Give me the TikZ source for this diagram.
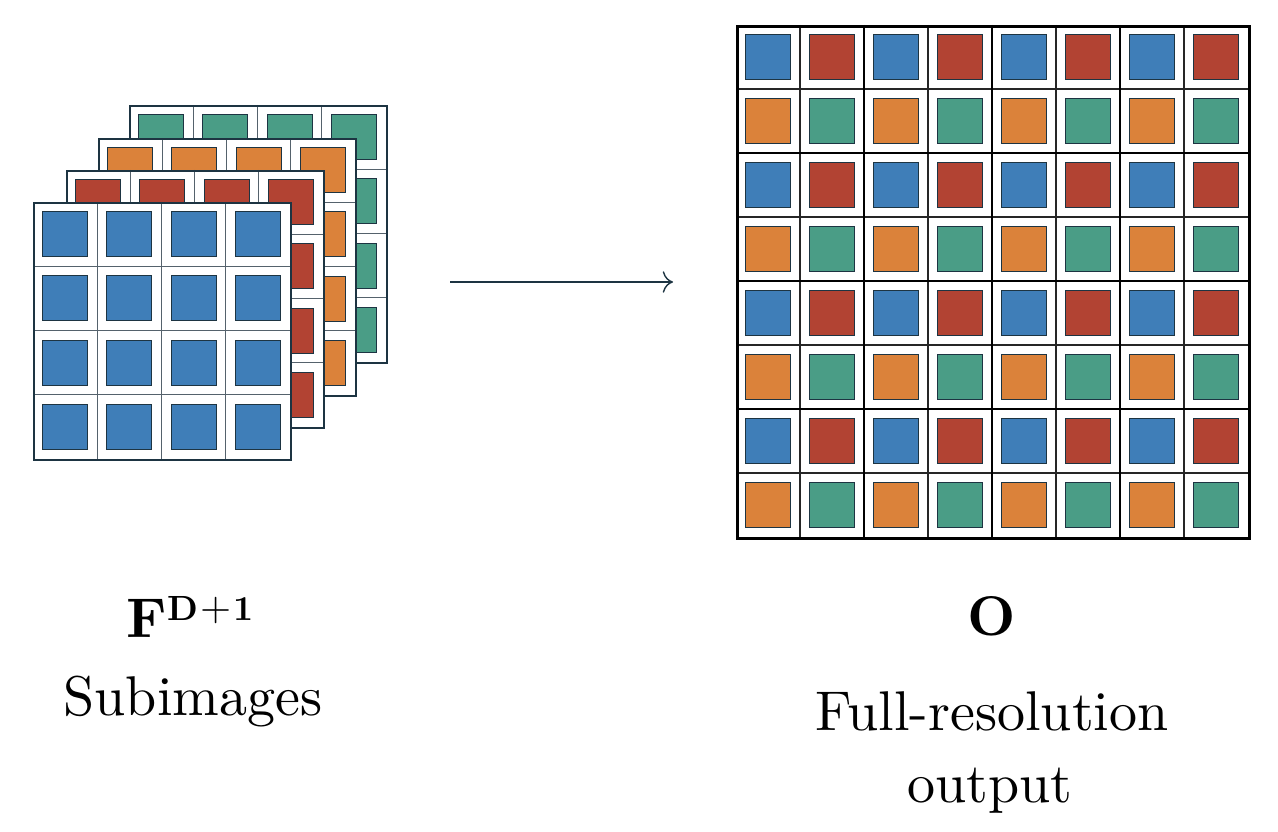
\documentclass[tikz,border=0pt]{standalone}
\usepackage{fontspec}
\setmainfont{lmroman10-regular}[Extension=.otf, BoldFont=lmroman10-bold]
\usetikzlibrary{arrows.meta}

\definecolor{cblue}{HTML}{3F7EB8}
\definecolor{cred}{HTML}{B24333}
\definecolor{corange}{HTML}{DB823A}
\definecolor{cgreen}{HTML}{4A9D86}
\definecolor{slate}{HTML}{1D3442}
\definecolor{gridgray}{HTML}{55626C}

\tikzset{
  pix/.style={draw=slate, line width=1pt},
  layerframe/.style={draw=slate, line width=2.3pt},
  layergrid/.style={draw=gridgray, line width=1.1pt},
  outthin/.style={draw=black!85, line width=1.1pt},
  outthick/.style={draw=black, line width=2.6pt},
  lbl/.style={anchor=base, inner sep=0pt, font=\fontsize{56}{67}\selectfont},
}

\begin{document}
\begin{tikzpicture}[x=1pt, y=-1pt]
\useasboundingbox (0,0) rectangle (1278,832);

% four stacked subimages, drawn from back to front
\foreach \ox/\oy/\col/\nm in {129/105/cgreen/lg, 98/138/corange/lo, 66/170/cred/lr, 33/202/cblue/lb} {
  \fill[white] (\ox,\oy) rectangle ++(257,257);
  \foreach \i in {0,...,3} {
    \foreach \j in {0,...,3} {
      \draw[pix, fill=\col] (\ox+\i*64.25+9.6, \oy+\j*64.25+9.6) rectangle ++(45,45);
    }
  }
  \foreach \k in {1,2,3} {
    \draw[layergrid] (\ox+\k*64.25, \oy) -- ++(0,257);
    \draw[layergrid] (\ox, \oy+\k*64.25) -- ++(257,0);
  }
  \node[layerframe, minimum size=257pt, inner sep=0pt, anchor=north west] (\nm) at (\ox,\oy) {};
}

% full-resolution output: 8x8 pixels, blocks of 2x2
\foreach \i in {0,...,7} {
  \foreach \j in {0,...,7} {
    \pgfmathtruncatemacro{\c}{mod(\i,2)+2*mod(\j,2)}
    \ifcase\c \def\pc{cblue}\or \def\pc{cred}\or \def\pc{corange}\or \def\pc{cgreen}\fi
    \draw[pix, fill=\pc] (736+\i*64+9.5, 25+\j*64+9.5) rectangle ++(45,45);
  }
}
\foreach \k in {1,3,5,7} {
  \draw[outthin] (736+\k*64, 25) -- ++(0,512);
  \draw[outthin] (736, 25+\k*64) -- ++(512,0);
}
\foreach \k in {2,4,6} {
  \draw[outthick] (736+\k*64, 25) -- ++(0,512);
  \draw[outthick] (736, 25+\k*64) -- ++(512,0);
}
\node[outthick, minimum size=512pt, inner sep=0pt, anchor=north west] (out) at (736,25) {};

% mapping arrow
\coordinate (arrowstart) at (450,282);
\coordinate (arrowend) at (673,282);
\draw[slate, line width=1.4pt, -{To[scale=2.2]}] (arrowstart) -- (arrowend);

% labels
\node[lbl] (flabel) at (190,637) {\textbf{F}\raisebox{17pt}{\fontsize{35}{40}\selectfont\textbf{D}\kern2pt{\fontsize{40}{46}\selectfont+}\kern2pt\textbf{1}}};
\node[lbl] (sublabel) at (193,715) {Subimages};
\node[lbl] (olabel) at (992,635) {\textbf{O}};
\node[lbl] (fulllabel) at (992,730) {Full-resolution};
\node[lbl] (outlabel) at (990,802) {output};
\end{tikzpicture}
\end{document}
